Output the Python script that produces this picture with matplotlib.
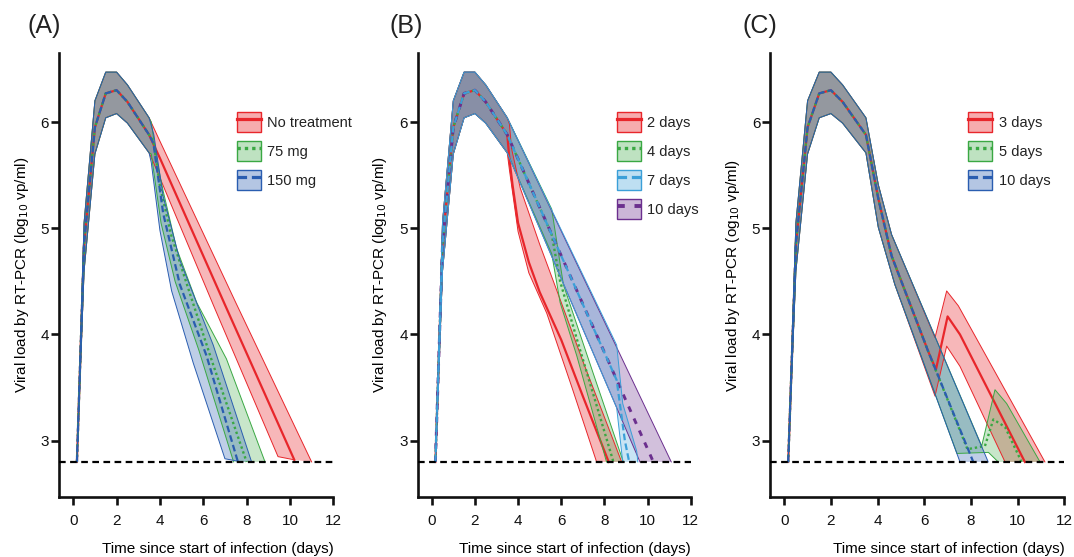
import matplotlib
matplotlib.use('Agg')
import matplotlib.pyplot as plt
from matplotlib.colors import to_rgba
from matplotlib.patches import Patch
from matplotlib.lines import Line2D

plt.rcParams['font.family'] = ['Liberation Sans', 'DejaVu Sans']
plt.rcParams['text.color'] = '#222222'
plt.rcParams['xtick.color'] = '#111111'
plt.rcParams['ytick.color'] = '#111111'

LOD = 2.8

# common rise/peak before any treatment effect (days, log10 vp/ml)
peak_t = [0.17, 0.5, 1.0, 1.5, 2.0, 2.5, 3.5]
peak_hi = [2.8, 5.05, 6.2, 6.47, 6.47, 6.35, 6.04]
peak_med = [2.8, 4.85, 5.95, 6.27, 6.30, 6.19, 5.88]
peak_lo = [2.8, 4.6, 5.7, 6.04, 6.08, 5.99, 5.71]

# ---- panel A : dose
a_none_hi_t, a_none_hi = [4.0, 7.5, 11.0], [5.82, 4.3, 2.8]
a_none_med_t, a_none_med = [4.0, 7.0, 10.2], [5.66, 4.28, 2.82]
a_none_lo_t, a_none_lo = [3.7, 6.5, 9.45, 10.2], [5.62, 4.26, 2.85, 2.82]

a_75_hi_t, a_75_hi = [3.6, 3.85, 4.15, 4.77, 5.7, 7.07, 8.85], [6.0, 5.65, 5.35, 4.81, 4.3, 3.77, 2.8]
a_75_med_t, a_75_med = [3.7, 4.0, 4.5, 5.2, 6.4, 8.0], [5.82, 5.4, 4.95, 4.5, 3.75, 2.8]
a_75_lo_t, a_75_lo = [3.6, 4.05, 4.7, 5.8, 7.4], [5.7, 5.05, 4.5, 3.85, 2.8]

a_150_hi_t, a_150_hi = [3.72, 4.15, 4.92, 6.46, 8.23], [5.88, 5.3, 4.7, 3.9, 2.8]
a_150_med_t, a_150_med = [3.7, 4.15, 4.92, 6.15, 7.6], [5.8, 5.14, 4.47, 3.8, 2.8]
a_150_lo_t, a_150_lo = [3.6, 4.0, 4.54, 5.54, 7.0, 7.8], [5.62, 4.98, 4.41, 3.73, 2.83, 2.8]

# ---- panel B : treatment start
b_2_hi_t, b_2_hi = [3.6, 3.7, 4.1, 5.0, 5.95, 7.0, 8.8], [5.98, 5.75, 5.38, 4.85, 4.33, 3.75, 2.8]
b_2_med_t, b_2_med = [3.6, 3.75, 4.0, 4.5, 5.0, 6.0, 7.0, 8.2], [5.65, 5.4, 5.05, 4.68, 4.4, 3.95, 3.42, 2.8]
b_2_lo_t, b_2_lo = [3.6, 4.0, 4.5, 5.33, 6.5, 7.64], [5.55, 4.97, 4.58, 4.2, 3.5, 2.8]

b_4_hi_t, b_4_hi = [5.56, 6.1, 7.49, 8.88], [5.18, 4.47, 3.63, 2.8]
b_4_med_t, b_4_med = [5.56, 5.95, 6.72, 8.42], [4.94, 4.5, 3.96, 2.8]
b_4_lo_t, b_4_lo = [5.56, 5.95, 6.72, 8.1], [4.76, 4.3, 3.8, 2.8]

b_7_hi_t, b_7_hi = [8.57, 8.85, 9.5, 9.55], [3.9, 3.35, 2.9, 2.8]
b_7_med_t, b_7_med = [8.57, 8.95, 9.15], [3.57, 3.0, 2.8]
b_7_lo_t, b_7_lo = [8.57, 8.85], [3.31, 2.8]

b_10_hi_t, b_10_hi = [11.1], [2.8]
b_10_med_t, b_10_med = [10.27], [2.8]
b_10_lo_t, b_10_lo = [9.65], [2.8]

# ---- panel C : treatment duration
c_main_hi_t, c_main_hi = [4.03, 4.6], [5.41, 4.94]
c_main_med_t, c_main_med = [4.03, 4.6, 6.17], [5.28, 4.74, 3.84]
c_main_lo_t, c_main_lo = [4.03, 4.74], [5.01, 4.47]

c_3_hi_t, c_3_hi = [6.46, 6.96, 7.46, 11.17], [3.97, 4.41, 4.27, 2.8]
c_3_med_t, c_3_med = [6.5, 7.0, 7.53, 10.31], [3.67, 4.17, 4.0, 2.8]
c_3_lo_t, c_3_lo = [6.46, 6.96, 7.53, 9.46], [3.42, 3.89, 3.7, 2.8]

c_5_hi_t, c_5_hi = [8.46, 9.03, 9.53, 10.96], [2.95, 3.48, 3.35, 2.8]
c_5_med_t, c_5_med = [7.85, 8.6, 8.96, 9.46, 10.17], [2.92, 2.95, 3.2, 3.13, 2.8]
c_5_lo_t, c_5_lo = [7.4, 8.75, 9.17], [2.88, 2.89, 2.8]

c_10_hi_t, c_10_hi = [8.74], [2.8]
c_10_med_t, c_10_med = [8.1], [2.8]
c_10_lo_t, c_10_lo = [7.53], [2.8]

RED, GREEN, BLUE = '#e8262b', '#3aa843', '#2a5db0'
LBLUE, PURPLE = '#3b9fd8', '#6b2f8e'

STYLE = {
    RED: dict(alpha=0.33, ls='-', lw=1.6),
    GREEN: dict(alpha=0.28, ls=(0, (1, 1.2)), lw=1.7),
    BLUE: dict(alpha=0.30, ls=(0, (3, 1.5)), lw=1.6),
    LBLUE: dict(alpha=0.28, ls=(0, (3, 1.5)), lw=1.6),
    PURPLE: dict(alpha=0.30, ls=(0, (2, 2.5)), lw=2.1),
}


def path(*parts):
    t, y = [], []
    for pt, py in parts:
        t += list(pt)
        y += list(py)
    return t, y


def draw(ax, color, hi, med, lo):
    st = STYLE[color]
    ax.fill(hi[0] + lo[0][::-1], hi[1] + lo[1][::-1],
            facecolor=to_rgba(color, st['alpha']), edgecolor='none')
    ax.plot(hi[0], hi[1], color=color, lw=0.7)
    ax.plot(lo[0], lo[1], color=color, lw=0.7)
    ax.plot(med[0], med[1], color=color, ls=st['ls'], lw=st['lw'])


def handle(color):
    st = STYLE[color]
    p = Patch(facecolor=to_rgba(color, st['alpha'] + 0.05), edgecolor=color, lw=1.0)
    l = Line2D([], [], color=color, ls=st['ls'], lw=st['lw'] + 0.7)
    return (p, l)


W, H = 1074, 557
fig = plt.figure(figsize=(W / 100, H / 100), dpi=100)

bottom = 1 - 497 / H
height = (497 - 53) / H
# (left px, right px, xmin, ylabel x in axes fraction, panel label x px, legend x px)
layout = [
    (58.5, 333.3, -0.68, -0.133, 44.5, 236.7),
    (417.7, 690.7, -0.65, -0.138, 406.5, 616.7),
    (770.0, 1064.3, -0.61, -0.126, 759.5, 968.3),
]
ylabels = [r'Viral load by RT-PCR (log$_{10}$ vp/ml)',
           r'Viral load by RT-PCR (log$_{10}$ vp/ml)',
           r'Viral load by RT-PCR (og$_{10}$ vp/ml)']
panel_names = ['(A)', '(B)', '(C)']

axes = []
for (l_px, r_px, xmin, ylx, plx, lgx), yl, name in zip(layout, ylabels, panel_names):
    ax = fig.add_axes([l_px / W, bottom, (r_px - l_px) / W, height])
    ax.set_xlim(xmin, 12)
    ax.set_ylim(2.47, 6.65)
    for s in ['top', 'right']:
        ax.spines[s].set_visible(False)
    for s in ['left', 'bottom']:
        ax.spines[s].set_linewidth(1.9)
        ax.spines[s].set_color('#111111')
    ax.set_xticks(range(0, 13, 2))
    ax.set_yticks([3, 4, 5, 6])
    ax.tick_params(axis='both', width=1.9, length=5.5, labelsize=11)
    ax.tick_params(axis='x', pad=7)
    ax.tick_params(axis='y', pad=1.5)
    ax.set_ylabel(yl, fontsize=11, va='center')
    ax.yaxis.set_label_coords(ylx, 0.5)
    ax.set_xlabel('Time since start of infection (days)', fontsize=11, ha='right', va='center')
    ax.xaxis.set_label_coords(1.0, -52 / 444)
    fig.text(plx / W, 1 - 26 / H, name, fontsize=18, ha='center', va='center')
    axes.append(ax)

# panel A
ax = axes[0]
draw(ax, RED, path((peak_t, peak_hi), (a_none_hi_t, a_none_hi)),
     path((peak_t, peak_med), (a_none_med_t, a_none_med)),
     path((peak_t, peak_lo), (a_none_lo_t, a_none_lo)))
draw(ax, GREEN, path((peak_t, peak_hi), (a_75_hi_t, a_75_hi)),
     path((peak_t, peak_med), (a_75_med_t, a_75_med)),
     path((peak_t, peak_lo), (a_75_lo_t, a_75_lo)))
draw(ax, BLUE, path((peak_t, peak_hi), (a_150_hi_t, a_150_hi)),
     path((peak_t, peak_med), (a_150_med_t, a_150_med)),
     path((peak_t, peak_lo), (a_150_lo_t, a_150_lo)))
labels_a = ['No treatment', '75 mg', '150 mg']
colors_a = [RED, GREEN, BLUE]

# panel B
ax = axes[1]
draw(ax, RED, path((peak_t, peak_hi), (b_2_hi_t, b_2_hi)),
     path((peak_t, peak_med), (b_2_med_t, b_2_med)),
     path((peak_t, peak_lo), (b_2_lo_t, b_2_lo)))
draw(ax, GREEN, path((peak_t, peak_hi), (b_4_hi_t, b_4_hi)),
     path((peak_t, peak_med), (b_4_med_t, b_4_med)),
     path((peak_t, peak_lo), (b_4_lo_t, b_4_lo)))
draw(ax, PURPLE, path((peak_t, peak_hi), (b_10_hi_t, b_10_hi)),
     path((peak_t, peak_med), (b_10_med_t, b_10_med)),
     path((peak_t, peak_lo), (b_10_lo_t, b_10_lo)))
draw(ax, LBLUE, path((peak_t, peak_hi), (b_7_hi_t, b_7_hi)),
     path((peak_t, peak_med), (b_7_med_t, b_7_med)),
     path((peak_t, peak_lo), (b_7_lo_t, b_7_lo)))
labels_b = ['2 days', '4 days', '7 days', '10 days']
colors_b = [RED, GREEN, LBLUE, PURPLE]

# panel C
ax = axes[2]
draw(ax, RED, path((peak_t, peak_hi), (c_main_hi_t, c_main_hi), (c_3_hi_t, c_3_hi)),
     path((peak_t, peak_med), (c_main_med_t, c_main_med), (c_3_med_t, c_3_med)),
     path((peak_t, peak_lo), (c_main_lo_t, c_main_lo), (c_3_lo_t, c_3_lo)))
draw(ax, GREEN, path((peak_t, peak_hi), (c_main_hi_t, c_main_hi), (c_5_hi_t, c_5_hi)),
     path((peak_t, peak_med), (c_main_med_t, c_main_med), (c_5_med_t, c_5_med)),
     path((peak_t, peak_lo), (c_main_lo_t, c_main_lo), (c_5_lo_t, c_5_lo)))
draw(ax, BLUE, path((peak_t, peak_hi), (c_main_hi_t, c_main_hi), (c_10_hi_t, c_10_hi)),
     path((peak_t, peak_med), (c_main_med_t, c_main_med), (c_10_med_t, c_10_med)),
     path((peak_t, peak_lo), (c_main_lo_t, c_main_lo), (c_10_lo_t, c_10_lo)))
labels_c = ['3 days', '5 days', '10 days']
colors_c = [RED, GREEN, BLUE]

fs = 10.5
fs_px = fs * 100 / 72
for ax, labels, colors, (l_px, r_px, xmin, ylx, plx, lgx) in zip(
        axes, [labels_a, labels_b, labels_c], [colors_a, colors_b, colors_c], layout):
    ax.axhline(LOD, color='black', ls=(0, (3, 2)), lw=1.6, zorder=5)
    ax.legend([handle(c) for c in colors], labels, loc='upper left',
              bbox_to_anchor=(lgx / W, 1 - 112 / H), bbox_transform=fig.transFigure,
              frameon=False, fontsize=fs, borderpad=0, borderaxespad=0,
              handlelength=24 / fs_px, handleheight=1.75,
              labelspacing=0.6, handletextpad=6.5 / fs_px)

fig.savefig('out.png', dpi=100)
